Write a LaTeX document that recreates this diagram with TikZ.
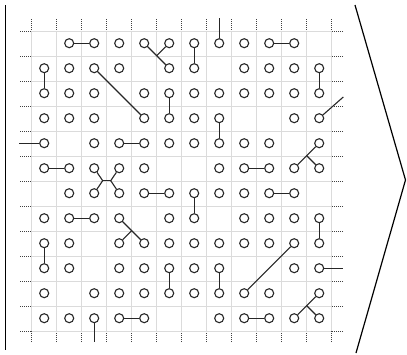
\documentclass[tikz,border=0pt]{standalone}
\begin{document}
\begin{tikzpicture}[x=1pt,y=-1pt,
 dot/.style={circle,draw=black!85,line width=1.1pt,inner sep=0pt,minimum size=9pt,fill=white},
 link/.style={draw=black!85,line width=1.1pt},
 gridline/.style={draw=black!14,line width=1pt},
 tick/.style={draw=black!75,line width=0.9pt,dash pattern=on 0.9pt off 1.1pt},
 frame/.style={draw=black,line width=1.4pt}]
\useasboundingbox (0,0) rectangle (407,354);
% grid and ticks
\foreach \i in {0,...,12} {
  \pgfmathsetmacro\p{31.7+25*\i}
  \draw[gridline] (\p,30.7) -- (\p,330.7);
  \draw[gridline] (31.7,\p) -- (331.7,\p);
  \draw[tick] (\p,19) -- (\p,30.7);
  \draw[tick] (\p,342) -- (\p,330.7);
  \draw[tick] (20,\p) -- (31.7,\p);
  \draw[tick] (343,\p) -- (331.7,\p);
}
% frame
\coordinate (L1) at (5.7,5);
\coordinate (L2) at (5.7,350);
\draw[frame] (L1) -- (L2);
\coordinate (ch1) at (355,5);
\coordinate (ch2) at (405.5,180);
\coordinate (ch3) at (356,353);
\draw[draw=black,line width=1.2pt] (ch1) -- (ch2) -- (ch3);
% circles
\foreach \r/\cols in {
  0/{1,2,3,4,5,6,7,8,9,10},
  1/{0,1,2,3,5,6,8,9,10,11},
  2/{0,1,2,4,5,6,7,8,9,10,11},
  3/{0,1,2,4,5,6,7,10,11},
  4/{0,2,3,4,5,6,7,8,9,11},
  5/{0,1,2,3,4,7,8,9,10,11},
  6/{1,2,3,4,5,6,7,8,9,10},
  7/{0,1,2,3,5,6,8,9,10,11},
  8/{0,1,3,4,5,6,7,8,9,10,11},
  9/{0,1,3,4,5,6,7,10,11},
  10/{0,2,3,4,5,6,7,8,9,11},
  11/{0,1,2,3,4,7,8,9,10,11}} {
  \foreach \c in \cols {
    \node[dot] (n\r-\c) at ({44.2+25*\c},{43.2+25*\r}) {};
  }
}
% junction points and free ends
\coordinate (J1) at (156.7,55.7);
\coordinate (J2) at (306.7,155.7);
\coordinate (J3) at (131.7,230.7);
\coordinate (J4) at (306.7,305.7);
\coordinate (Xa) at (102.7,180.7);
\coordinate (Xb) at (110.7,180.7);
\coordinate (s1) at (219.2,18);
\coordinate (s2) at (19,143.2);
\coordinate (s3) at (94.2,342);
\coordinate (s4) at (343,268.2);
\coordinate (s5) at (343.3,97);
% horizontal links
\draw[link] (n0-1) -- (n0-2);
\draw[link] (n0-9) -- (n0-10);
\draw[link] (n4-3) -- (n4-4);
\draw[link] (n5-0) -- (n5-1);
\draw[link] (n5-8) -- (n5-9);
\draw[link] (n6-4) -- (n6-5);
\draw[link] (n6-9) -- (n6-10);
\draw[link] (n7-1) -- (n7-2);
\draw[link] (n11-3) -- (n11-4);
\draw[link] (n11-8) -- (n11-9);
% vertical links
\draw[link] (n1-0) -- (n2-0);
\draw[link] (n8-0) -- (n9-0);
\draw[link] (n0-6) -- (n1-6);
\draw[link] (n6-6) -- (n7-6);
\draw[link] (n1-11) -- (n2-11);
\draw[link] (n7-11) -- (n8-11);
\draw[link] (n2-5) -- (n3-5);
\draw[link] (n9-5) -- (n10-5);
\draw[link] (n3-7) -- (n4-7);
\draw[link] (n9-7) -- (n10-7);
% diagonals
\draw[link] (n1-2) -- (n3-4);
\draw[link] (n8-10) -- (n10-8);
% junctions
\draw[link] (n0-4) -- (J1) -- (n1-5);
\draw[link] (n0-5) -- (J1);
\draw[link] (n4-11) -- (J2) -- (n5-10);
\draw[link] (n5-11) -- (J2);
\draw[link] (n7-3) -- (J3) -- (n8-4);
\draw[link] (n8-3) -- (J3);
\draw[link] (n10-11) -- (J4) -- (n11-10);
\draw[link] (n11-11) -- (J4);
\draw[link] (n5-2) -- (Xa) -- (n6-2);
\draw[link] (n5-3) -- (Xb) -- (n6-3);
\draw[link] (Xa) -- (Xb);
% stems
\draw[link] (n0-7) -- (s1);
\draw[link] (n4-0) -- (s2);
\draw[link] (n11-2) -- (s3);
\draw[link] (n9-11) -- (s4);
\draw[link] (n3-11) -- (s5);
\end{tikzpicture}
\end{document}
